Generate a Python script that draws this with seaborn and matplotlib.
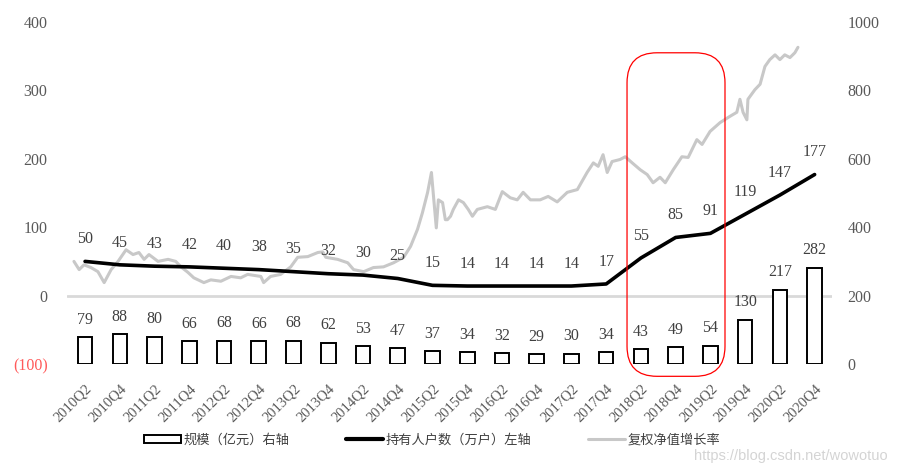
import numpy as np
import pandas as pd
import seaborn as sns
import matplotlib.pyplot as plt
from matplotlib.patches import FancyBboxPatch, Patch
from matplotlib.lines import Line2D
from matplotlib.transforms import IdentityTransform

sns.set_theme(style="white")
plt.rcParams['font.family'] = ['Liberation Serif', 'Noto Sans CJK SC', 'DejaVu Sans']

# ---------------- data ----------------
categories = ["2010Q2", "2010Q4", "2011Q2", "2011Q4", "2012Q2", "2012Q4", "2013Q2", "2013Q4",
              "2014Q2", "2014Q4", "2015Q2", "2015Q4", "2016Q2", "2016Q4", "2017Q2", "2017Q4",
              "2018Q2", "2018Q4", "2019Q2", "2019Q4", "2020Q2", "2020Q4"]
scale = [79, 88, 80, 66, 68, 66, 68, 62, 53, 47, 37, 34, 32, 29, 30, 34, 43, 49, 54, 130, 217, 282]
holders = [50, 45, 43, 42, 40, 38, 35, 32, 30, 25, 15, 14, 14, 14, 14, 17, 55, 85, 91, 119, 147, 177]

# NAV growth series (position in quarter-index units, value on left axis)
gray_pos = [-0.32, -0.17, -0.03, 0.17, 0.37, 0.55, 0.75, 0.95, 1.18, 1.38, 1.55, 1.70, 1.84,
            2.10, 2.39, 2.61, 2.76, 2.96, 3.13, 3.42, 3.62, 3.91, 4.20, 4.48, 4.68, 5.06,
            5.14, 5.34, 5.63, 5.92, 6.12, 6.41, 6.70, 6.84, 6.93, 7.27, 7.56, 7.73, 8.02,
            8.30, 8.59, 8.88, 9.17, 9.37, 9.57, 9.71, 9.86, 9.97, 10.03, 10.11, 10.17, 10.29,
            10.37, 10.43, 10.52, 10.60, 10.75, 10.89, 11.03, 11.15, 11.29, 11.58, 11.81,
            12.01, 12.24, 12.44, 12.61, 12.82, 13.10, 13.33, 13.59, 13.88, 14.17, 14.45,
            14.63, 14.77, 14.91, 15.03, 15.17, 15.40, 15.55, 15.75, 15.98, 16.18, 16.35,
            16.55, 16.70, 16.93, 17.18, 17.36, 17.61, 17.76, 17.99, 18.28, 18.56, 18.76,
            18.85, 18.94, 19.05, 19.08, 19.28, 19.43, 19.57, 19.71, 19.86, 20.00, 20.14,
            20.29, 20.43, 20.52]
gray_val = [50, 38, 45, 41, 35, 19, 38, 50, 67, 60, 63, 53, 60,
            50, 53, 50, 42, 34, 26, 19, 23, 21, 28, 26, 31, 28,
            19, 28, 31, 42, 56, 57, 63, 64, 56, 53, 48, 38, 35,
            41, 42, 48, 56, 72, 97, 121, 151, 180, 145, 99, 140, 136,
            111, 111, 116, 126, 140, 136, 126, 116, 126, 130, 126,
            152, 143, 140, 151, 140, 140, 145, 137, 151, 155, 180,
            194, 189, 206, 180, 196, 199, 203, 194, 184, 177, 165,
            173, 165, 184, 203, 202, 228, 221, 240, 253, 262, 268,
            287, 268, 257, 287, 301, 309, 335, 345, 352, 345, 352,
            348, 355, 363]

left_ticks = [-100, 0, 100, 200, 300, 400]
left_ticklabels = ["(100)", "0", "100", "200", "300", "400"]
right_ticks = [0, 200, 400, 600, 800, 1000]

legend_labels = ["规模（亿元）右轴", "持有人户数（万户）左轴", "复权净值增长率"]

# ---------------- figure ----------------
fig = plt.figure(figsize=(9, 4.72), dpi=100)
ax = fig.add_axes([67 / 900, 1 - 364 / 472, (832 - 67) / 900, (364 - 22) / 472])
ax2 = ax.twinx()

df = pd.DataFrame({"cat": categories, "scale": scale, "holders": holders})

sns.barplot(data=df, x="cat", y="scale", ax=ax2, color="white", saturation=1,
            edgecolor="black", linewidth=1.4, width=0.42)

sns.lineplot(x=gray_pos, y=gray_val, ax=ax, color="#c8c8c8", linewidth=2.2,
             sort=False, estimator=None, zorder=2)
sns.lineplot(x=np.arange(len(categories)), y=holders, ax=ax, color="black",
             linewidth=2.6, sort=False, estimator=None, zorder=3)

ax.axhline(0, color="#d9d9d9", linewidth=2, zorder=1)

ax.set_xlim(-0.52, 21.5)
ax2.set_xlim(-0.52, 21.5)
ax.set_ylim(-100, 400)
ax2.set_ylim(0, 1000)

for a in (ax, ax2):
    for s in a.spines.values():
        s.set_visible(False)
    a.set_xlabel("")
    a.set_ylabel("")
    a.grid(False)

ax.set_yticks(left_ticks)
ax.set_yticklabels(left_ticklabels)
ax.tick_params(axis="y", length=0, pad=14, labelsize=11.5, labelcolor="#595959")
for t in ax.get_yticklabels():
    if t.get_text().startswith("("):
        t.set_color("#ff5a5a")

ax2.set_yticks(right_ticks)
ax2.set_yticklabels([str(v) for v in right_ticks])
ax2.tick_params(axis="y", length=0, pad=11, labelsize=11.5, labelcolor="#595959")
ax2.tick_params(axis="x", length=0, labelbottom=False)

ax.set_xticks(np.arange(len(categories)))
ax.set_xticklabels(categories, rotation=45, ha="right", va="top",
                   rotation_mode="anchor")
ax.tick_params(axis="x", length=0, pad=13, labelsize=10.5, labelcolor="#595959")

# data labels
for i, v in enumerate(holders):
    ax.annotate(str(v), (i, v), xytext=(0, 16), textcoords="offset points",
                ha="center", va="center", fontsize=11.5, color="#404040")
for i, v in enumerate(scale):
    ax2.annotate(str(v), (i, v), xytext=(0, 12.5), textcoords="offset points",
                 ha="center", va="center", fontsize=11.5, color="#404040")

# legend
handles = [Patch(facecolor="white", edgecolor="black", linewidth=1.4),
           Line2D([0], [0], color="black", linewidth=3),
           Line2D([0], [0], color="#c8c8c8", linewidth=2.2)]
fig.legend(handles, legend_labels, loc="center", bbox_to_anchor=(432 / 900, 1 - 440 / 472),
           ncol=3, frameon=False, handlelength=2.8, handleheight=0.6, columnspacing=4.3,
           handletextpad=0.2, prop={"family": ["Noto Sans CJK SC"], "size": 9.5},
           labelcolor="#404040")

# red rounded highlight box around 2018Q2-2019Q2
fig.canvas.draw()
x0, y0 = ax.transData.transform((15.6, -118))
x1, y1 = ax.transData.transform((18.42, 355))
box = FancyBboxPatch((x0, y0), x1 - x0, y1 - y0,
                     boxstyle="round,pad=0,rounding_size=30",
                     transform=IdentityTransform(), facecolor="none",
                     edgecolor="red", linewidth=0.9, zorder=10)
fig.patches.append(box)
box.set_figure(fig)

# watermark
fig.text(888 / 900, 1 - 456 / 472, "https://blog.csdn.net/wowotuo", ha="right", va="center",
         fontsize=10.5, color="#d4d4d4", family=["Liberation Sans", "DejaVu Sans"])

fig.savefig("out.png", dpi=100)
